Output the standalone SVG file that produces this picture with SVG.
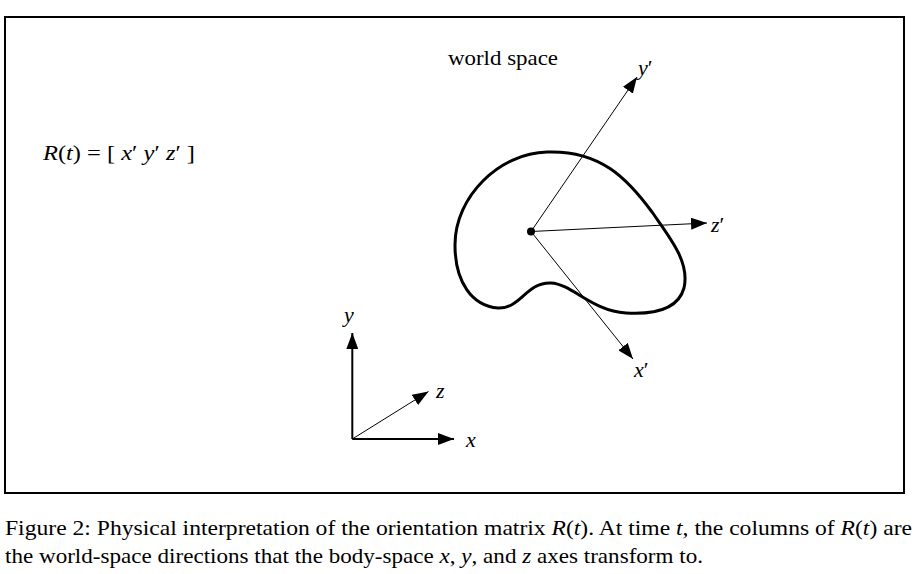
<svg xmlns="http://www.w3.org/2000/svg" width="914" height="574" viewBox="0 0 914 574">
<style>
text{font-family:"Liberation Serif","Times New Roman",serif;fill:#000}
.lbl{font-size:22px}
.cap{font-size:21px}
.it{font-style:italic}
.ax{stroke:#000;fill:none}
</style>
<defs>
<marker id="ah" viewBox="0 0 16 12" refX="16" refY="6" markerWidth="16" markerHeight="12" markerUnits="userSpaceOnUse" orient="auto">
<path d="M0,0 L16,6 L0,12 Z" fill="#000"/>
</marker>
</defs>
<rect x="0" y="0" width="914" height="574" fill="#fff"/>
<rect id="frame" x="5" y="17" width="899" height="476" fill="none" stroke="#000" stroke-width="2"/>
<g id="title"><text class="lbl" x="448" y="65" textLength="110" lengthAdjust="spacingAndGlyphs">world space</text></g>
<g id="equation"><text class="lbl" x="43" y="160" textLength="152" lengthAdjust="spacingAndGlyphs"><tspan class="it">R</tspan>(<tspan class="it">t</tspan>) = [ <tspan class="it">x</tspan>′  <tspan class="it">y</tspan>′  <tspan class="it">z</tspan>′ ]</text></g>
<g id="body">
<path d="M547,152 C600,150 627,178 652,212 C670,238 690,262 684,288 C679,306 660,315 626,313 C592,311 572,284 551,283 C526,282 521,309 498,308 C472,306 455,282 455,245 C455,196 500,153 547,152 Z" fill="none" stroke="#000" stroke-width="3"/>
<circle cx="531" cy="231.5" r="4" fill="#000"/>
</g>
<g id="connectors">
<line class="ax" x1="531" y1="231.5" x2="637" y2="77" stroke-width="1" marker-end="url(#ah)"/>
<line class="ax" x1="531" y1="231.5" x2="707" y2="223" stroke-width="1" marker-end="url(#ah)"/>
<line class="ax" x1="531" y1="231.5" x2="633" y2="359" stroke-width="1" marker-end="url(#ah)"/>
<line class="ax" x1="352.3" y1="439" x2="352.3" y2="333" stroke-width="2" marker-end="url(#ah)"/>
<line class="ax" x1="352.3" y1="439" x2="454" y2="439" stroke-width="2" marker-end="url(#ah)"/>
<line class="ax" x1="352.3" y1="439" x2="428.5" y2="391.5" stroke-width="1" marker-end="url(#ah)"/>
</g>
<g id="labels">
<text class="lbl" x="638" y="75"><tspan class="it">y</tspan>′</text>
<text class="lbl" x="711" y="232"><tspan class="it">z</tspan>′</text>
<text class="lbl" x="634" y="377"><tspan class="it">x</tspan>′</text>
<text class="lbl it" x="344" y="322">y</text>
<text class="lbl it" x="436" y="398">z</text>
<text class="lbl it" x="466" y="447">x</text>
</g>
<g id="caption">
<text class="cap" x="5" y="535" textLength="907" lengthAdjust="spacingAndGlyphs">Figure 2: Physical interpretation of the orientation matrix <tspan class="it">R</tspan>(<tspan class="it">t</tspan>). At time <tspan class="it">t</tspan>, the columns of <tspan class="it">R</tspan>(<tspan class="it">t</tspan>) are</text>
<text class="cap" x="5" y="563" textLength="698" lengthAdjust="spacingAndGlyphs">the world-space directions that the body-space <tspan class="it">x</tspan>, <tspan class="it">y</tspan>, and <tspan class="it">z</tspan> axes transform to.</text>
</g>
</svg>
